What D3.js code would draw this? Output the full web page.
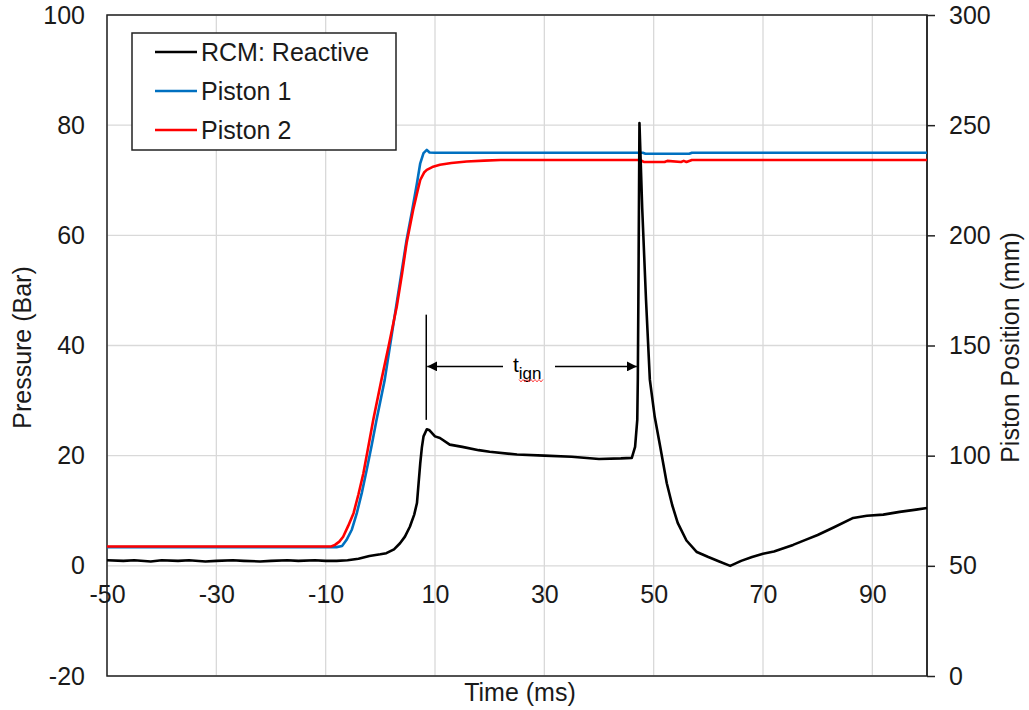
<!DOCTYPE html>
<html>
<head>
<meta charset="utf-8">
<script src="https://cdn.jsdelivr.net/npm/d3@7"></script>
<style>
  html, body { margin: 0; padding: 0; background: #fff; }
  svg { display: block; font-family: 'Liberation Sans', Arial, sans-serif; }
</style>
</head>
<body>
<svg id="chart" width="1029" height="710"></svg>
<script>
// ---------- DATA ----------
const timeTicks = [-50, -30, -10, 10, 30, 50, 70, 90];
const pressureTicks = [-20, 0, 20, 40, 60, 80, 100];
const positionTicks = [0, 50, 100, 150, 200, 250, 300];

const seriesNames = ["RCM: Reactive", "Piston 1", "Piston 2"];
const seriesColors = ["#000000", "#0070C0", "#FF0000"];

// RCM pressure (Bar) vs time (ms)
const rcmTime = [-50, -47, -45, -42, -40, -37, -35, -32, -30, -27, -25, -22, -20, -17, -15, -12, -10, -8, -6, -4, -2, 0,
  1.1, 2.5, 3.6, 4.5, 5.4, 6.2, 6.7, 7.0, 7.3, 7.6, 7.9, 8.5, 9.0, 10, 10.9, 12.7, 15, 18, 20, 25, 30, 35, 40, 44, 46,
  46.6, 47.0, 47.1, 47.2, 47.4, 47.9, 48.6, 49.3, 50.2, 51.2, 52.4, 53.4, 54.4, 56, 57.9, 60, 62, 64, 66, 68, 70, 72,
  75.5, 78, 80, 83, 86.5, 89, 92, 95, 98, 100];
const rcmPressure = [1.0, 0.9, 1.0, 0.8, 1.0, 0.9, 1.0, 0.8, 0.9, 1.0, 0.9, 0.8, 0.9, 1.0, 0.9, 1.0, 0.9, 0.9, 1.0, 1.3, 1.8, 2.1,
  2.3, 3.0, 4.1, 5.3, 7.1, 9.3, 11.4, 15, 18.6, 21.5, 23.5, 24.8, 24.6, 23.5, 23.2, 22.0, 21.6, 21.0, 20.7, 20.2, 20.0, 19.8, 19.4, 19.5, 19.6,
  21.6, 26.5, 33.8, 48, 80.4, 65, 48.3, 33.8, 27, 21.6, 15, 11, 7.8, 4.6, 2.5, 1.6, 0.8, 0.0, 0.9, 1.6, 2.2, 2.6,
  3.8, 4.8, 5.6, 7.0, 8.7, 9.1, 9.3, 9.8, 10.2, 10.5];

// Piston 1 position (mm)
const piston1Time = [-50, -8, -7, -6.2, -5.2, -4.3, -3.4, -2.5, -1.6, -0.7, 0.8, 2.0, 3.0, 4.0, 4.8, 5.8, 6.7, 7.3, 7.9, 8.5, 9.0, 10,
  48, 48.5, 56.5, 57, 100];
const piston1Pos = [58.5, 58.5, 59.0, 61.7, 66.5, 73.9, 83, 93.5, 104.5, 116.2, 134.4, 153.5, 169.4, 185.2, 197.9, 211, 223.6, 232.7, 237.3, 238.8, 237.6, 237.5,
  237.5, 237.0, 237.0, 237.5, 237.5];

// Piston 2 position (mm)
const piston2Time = [-50, -9, -8.3, -7.5, -6.8, -5.9, -4.9, -4.0, -3.1, -2.2, -1.3, 0.2, 1.5, 3.0, 4.0, 4.8, 6.0, 6.8, 7.3, 8.0, 8.5, 9.5,
  10.9, 13, 15.8, 19, 22, 47.5, 48.2, 52, 52.5, 55, 55.5, 56, 57, 100];
const piston2Pos = [58.8, 58.8, 59.5, 61, 63.2, 68, 73.9, 82.5, 92, 104, 116.2, 134.4, 149.5, 167.6, 183, 196.4, 211.5, 220, 225.1, 228.5, 229.7, 231,
  232, 232.8, 233.5, 233.9, 234.2, 234.2, 233.3, 233.3, 233.8, 233.3, 233.8, 233.3, 234.2, 234.2];

// Ignition delay annotation (time ms, pressure bar)
const ignStart = 8.4, ignEnd = 47.1, ignArrowP = 36.2, ignMarkTop = 45.6, ignMarkBottom = 26.5;

// ---------- LAYOUT ----------
const svg = d3.select("#chart");
const L = 107, R = 927, T = 15, B = 676;
const FS = 25;
const textColor = "#1a1a1a";
const fmt = d => String(d);

const x = d3.scaleLinear().domain([-50, 100]).range([L, R]);
const y = d3.scaleLinear().domain([-20, 100]).range([B, T]);
const y2 = d3.scaleLinear().domain([0, 300]).range([B, T]);

// gridlines
const grid = svg.append("g").attr("stroke", "#d9d9d9").attr("stroke-width", 1.3);
grid.selectAll("line.h").data(pressureTicks).join("line")
  .attr("x1", L).attr("x2", R).attr("y1", d => y(d)).attr("y2", d => y(d));
grid.selectAll("line.v").data(timeTicks).join("line")
  .attr("y1", T).attr("y2", B).attr("x1", d => x(d)).attr("x2", d => x(d));

// frame
svg.append("rect").attr("x", L).attr("y", T).attr("width", R - L).attr("height", B - T)
  .attr("fill", "none").attr("stroke", "#222").attr("stroke-width", 1.5);

// axes
const xAxis = svg.append("g").attr("transform", `translate(0,${y(0)})`)
  .call(d3.axisBottom(x).tickValues(timeTicks).tickSize(0).tickPadding(19).tickFormat(fmt));
const yAxis = svg.append("g").attr("transform", `translate(${L},0)`)
  .call(d3.axisLeft(y).tickValues(pressureTicks).tickSize(0).tickPadding(22).tickFormat(fmt));
const y2Axis = svg.append("g").attr("transform", `translate(${R},0)`)
  .call(d3.axisRight(y2).tickValues(positionTicks).tickSizeInner(8).tickSizeOuter(0).tickPadding(14).tickFormat(fmt));
[xAxis, yAxis, y2Axis].forEach(g => {
  g.select(".domain").remove();
  g.selectAll("text").attr("font-size", FS).attr("fill", textColor).attr("font-family", "'Liberation Sans', Arial, sans-serif");
  g.selectAll("line").attr("stroke", "#222").attr("stroke-width", 1.5);
});
svg.append("line").attr("x1", R).attr("x2", R).attr("y1", T).attr("y2", B).attr("stroke", "#222").attr("stroke-width", 1.5);

// axis titles
svg.append("text").attr("x", (L + R) / 2 + 3).attr("y", 701).attr("text-anchor", "middle")
  .attr("font-size", FS).attr("fill", textColor).text("Time (ms)");
svg.append("text").attr("transform", `translate(31,${(T + B) / 2 + 2}) rotate(-90)`).attr("text-anchor", "middle")
  .attr("font-size", FS).attr("fill", textColor).text("Pressure (Bar)");
svg.append("text").attr("transform", `translate(1019,${(T + B) / 2 + 2}) rotate(-90)`).attr("text-anchor", "middle")
  .attr("font-size", FS).attr("fill", textColor).text("Piston Position (mm)");

// lines
const lineP = d3.line().x(d => x(d[0])).y(d => y(d[1]));
const lineMM = d3.line().x(d => x(d[0])).y(d => y2(d[1]));
const d1 = piston1Time.map((t, i) => [t, piston1Pos[i]]);
const d2 = piston2Time.map((t, i) => [t, piston2Pos[i]]);
const d0 = rcmTime.map((t, i) => [t, rcmPressure[i]]);
svg.append("path").datum(d1).attr("d", lineMM).attr("fill", "none").attr("stroke", seriesColors[1]).attr("stroke-width", 2.6).attr("stroke-linejoin", "round");
svg.append("path").datum(d2).attr("d", lineMM).attr("fill", "none").attr("stroke", seriesColors[2]).attr("stroke-width", 2.6).attr("stroke-linejoin", "round");
svg.append("path").datum(d0).attr("d", lineP).attr("fill", "none").attr("stroke", seriesColors[0]).attr("stroke-width", 2.6).attr("stroke-linejoin", "round");

// annotation
const ann = svg.append("g");
const defs = svg.append("defs");
defs.append("marker").attr("id", "ah").attr("viewBox", "0 0 10 10").attr("refX", 10).attr("refY", 5)
  .attr("markerWidth", 10).attr("markerHeight", 10).attr("markerUnits", "userSpaceOnUse").attr("orient", "auto")
  .append("path").attr("d", "M0,0 L10,5 L0,10 Z").attr("fill", "#000");
ann.append("line").attr("x1", x(ignStart)).attr("x2", x(ignStart)).attr("y1", y(ignMarkTop)).attr("y2", y(ignMarkBottom))
  .attr("stroke", "#000").attr("stroke-width", 1.5);
const ay = y(ignArrowP);
ann.append("line").attr("x1", 503).attr("x2", x(ignStart) + 1).attr("y1", ay).attr("y2", ay)
  .attr("stroke", "#000").attr("stroke-width", 1.5).attr("marker-end", "url(#ah)");
ann.append("line").attr("x1", 555).attr("x2", x(ignEnd) - 1).attr("y1", ay).attr("y2", ay)
  .attr("stroke", "#000").attr("stroke-width", 1.5).attr("marker-end", "url(#ah)");
const tl = ann.append("text").attr("x", 513).attr("y", ay + 6).attr("font-size", 21).attr("fill", "#000");
tl.append("tspan").text("t");
tl.append("tspan").attr("dy", 7).attr("font-size", 17).text("ign");
// spell-check squiggle
let sq = "M519," + (ay + 13);
for (let i = 0; i < 12; i++) sq += ` l2,${i % 2 ? -2.5 : 2.5}`;
ann.append("path").attr("d", sq).attr("fill", "none").attr("stroke", "#ff4040").attr("stroke-width", 1);

// legend
const lg = svg.append("g");
lg.append("rect").attr("x", 132).attr("y", 33).attr("width", 264).attr("height", 117)
  .attr("fill", "#fff").attr("stroke", "#222").attr("stroke-width", 1.5);
const ly = [52, 91, 130];
seriesNames.forEach((n, i) => {
  lg.append("line").attr("x1", 155).attr("x2", 197).attr("y1", ly[i]).attr("y2", ly[i])
    .attr("stroke", seriesColors[i]).attr("stroke-width", 2.6);
  lg.append("text").attr("x", 201).attr("y", ly[i] + 8.5).attr("font-size", FS).attr("fill", textColor).text(n);
});
</script>
</body>
</html>
